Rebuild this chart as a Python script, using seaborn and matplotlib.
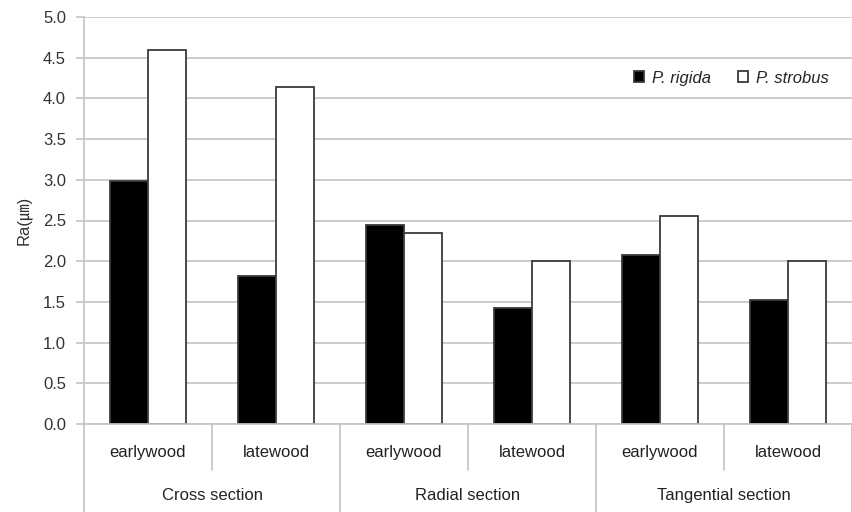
import pandas as pd
import seaborn as sns
import matplotlib.pyplot as plt
import matplotlib.transforms as mtransforms

sections = ["Cross section", "Radial section", "Tangential section"]
woods = ["earlywood", "latewood"]
species = ["P. rigida", "P. strobus"]
rigida = [2.98, 1.82, 2.44, 1.42, 2.08, 1.52]
strobus = [4.60, 4.14, 2.35, 2.00, 2.55, 2.00]
yticks = [0.0, 0.5, 1.0, 1.5, 2.0, 2.5, 3.0, 3.5, 4.0, 4.5, 5.0]

keys = [f"{s}|{w}" for s in sections for w in woods]
df = pd.DataFrame({
    "key": keys * 2,
    "species": [species[0]] * 6 + [species[1]] * 6,
    "Ra": rigida + strobus,
})

sns.set_style("white")
plt.rcParams['font.family'] = ['Liberation Sans', 'DejaVu Sans', 'Noto Sans CJK JP']

fig = plt.figure(figsize=(8.52, 5.12), dpi=100)
ax = fig.add_axes([84 / 852, 1 - 424 / 512, 1 - 84 / 852, (424 - 17) / 512])

sns.barplot(data=df, x="key", y="Ra", hue="species", order=keys,
            palette=["black", "white"], edgecolor="#3a3a3a", linewidth=1.3,
            width=0.6, ax=ax, legend=True)

grid = "#c4c4c4"
ax.set_ylim(0, 5.0)
ax.set_xlim(-0.5, 5.5)
ax.set_yticks(yticks)
ax.set_yticklabels([f"{v:.1f}" for v in yticks], fontsize=12, color="#333333")
ax.yaxis.grid(True, color=grid, linewidth=1.2)
ax.set_axisbelow(True)
for side in ["top", "right"]:
    ax.spines[side].set_visible(False)
ax.spines["left"].set_color(grid)
ax.spines["bottom"].set_color(grid)
ax.spines["left"].set_linewidth(1.2)
ax.spines["bottom"].set_linewidth(1.2)
ax.tick_params(axis="y", length=6, width=1.2, color=grid, pad=7, left=True)
ax.set_xticks([])
ax.set_xlabel("")
ax.set_ylabel("Ra(\u339b)", fontsize=12, color="#333333", labelpad=8)

# category labels and separators below the axis
trans = mtransforms.blended_transform_factory(ax.transData, ax.transAxes)
bottom = -88 / 407
for i, k in enumerate(keys):
    ax.text(i, -33 / 407, k.split("|")[1], transform=trans, ha="center", va="baseline",
            fontsize=12, color="#222222")
for x in [0.5, 2.5, 4.5]:
    ax.plot([x, x], [0, -46 / 407], transform=trans, color=grid, lw=1.2, clip_on=False)
for x in [-0.5, 1.5, 3.5, 5.5]:
    ax.plot([x, x], [0, bottom], transform=trans, color=grid, lw=1.2, clip_on=False)
for i, s in enumerate(sections):
    ax.text(2 * i + 0.5, -76 / 407, s, transform=trans, ha="center", va="baseline",
            fontsize=12, color="#222222")

handles, labels = ax.get_legend_handles_labels()
ax.legend(handles, labels, ncol=2, frameon=False, loc="center right",
          bbox_to_anchor=(0.99, 0.85), handlelength=0.6, handleheight=0.6,
          columnspacing=1.6, handletextpad=0.5,
          prop={"style": "italic", "size": 12})

plt.savefig("out.png", dpi=100)
